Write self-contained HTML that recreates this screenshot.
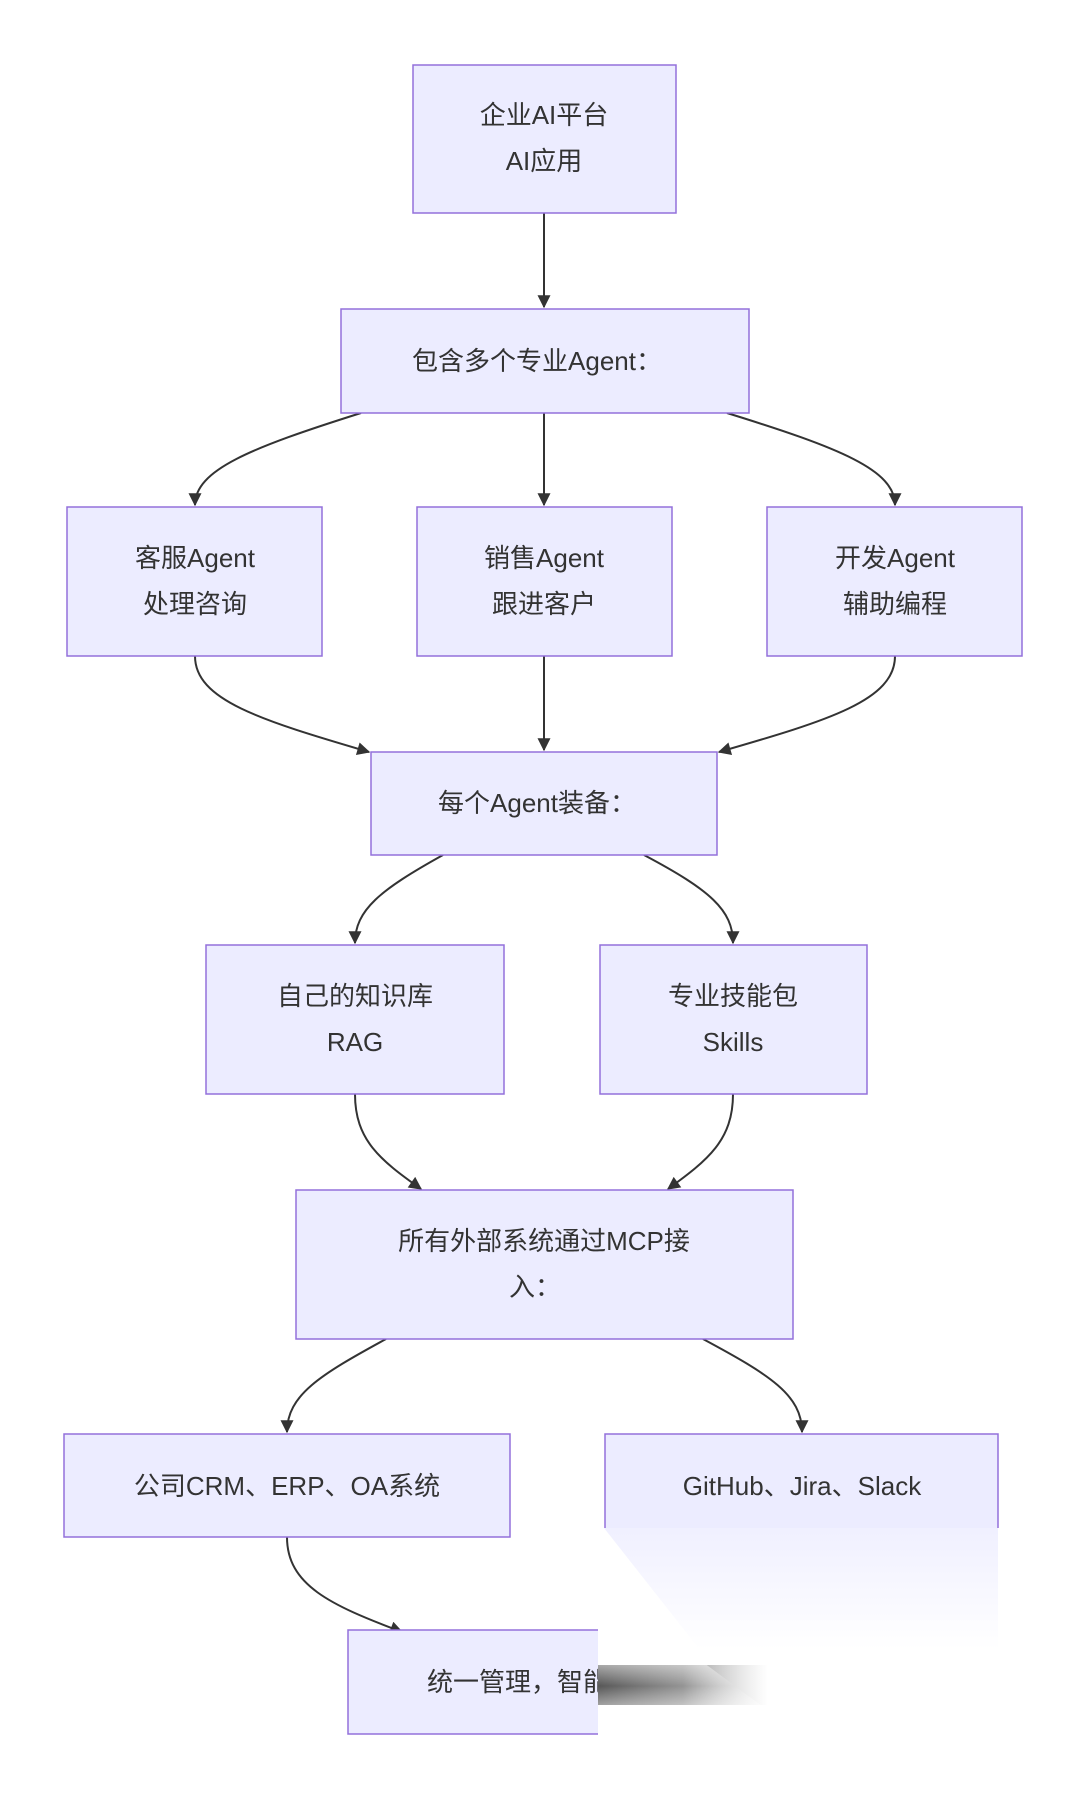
<!DOCTYPE html>
<html><head><meta charset="utf-8"><style>
html,body{margin:0;padding:0;background:#fff;}
svg{display:block}
text{font-family:"Liberation Sans","Noto Sans CJK SC",sans-serif;font-size:26px;fill:#333;text-anchor:middle;}
rect{fill:#ECECFF;stroke:#9370DB;stroke-width:1.5}
path{fill:none;stroke:#333;stroke-width:2}
</style></head><body>
<svg width="1080" height="1796" viewBox="0 0 1080 1796" xmlns="http://www.w3.org/2000/svg">
<defs>
<marker id="a" viewBox="0 0 10 10" refX="9" refY="5" markerWidth="15" markerHeight="13" markerUnits="userSpaceOnUse" orient="auto"><path d="M0,0 L10,5 L0,10 z" style="fill:#333;stroke:none"/></marker>
<linearGradient id="lav" x1="0" y1="0" x2="0" y2="1">
<stop offset="0" stop-color="#ECECFF" stop-opacity="1"/><stop offset="1" stop-color="#ffffff" stop-opacity="1"/></linearGradient>
<linearGradient id="sm" x1="0" y1="0" x2="1" y2="0">
<stop offset="0" stop-color="#444" stop-opacity="0.9"/><stop offset="0.5" stop-color="#666" stop-opacity="0.7"/><stop offset="1" stop-color="#aaa" stop-opacity="0"/></linearGradient>
<linearGradient id="smv" x1="0" y1="0" x2="0" y2="1">
<stop offset="0" stop-color="#fff" stop-opacity="1"/><stop offset="0.5" stop-color="#fff" stop-opacity="0"/><stop offset="1" stop-color="#fff" stop-opacity="1"/></linearGradient>
<clipPath id="cl"><rect x="0" y="0" width="598" height="1796"/></clipPath>
</defs>
<!-- edges -->
<path d="M544,213 L544,307" marker-end="url(#a)"/>
<path d="M361,413 C250,448 195,470 195,505" marker-end="url(#a)"/>
<path d="M544,413 L544,505" marker-end="url(#a)"/>
<path d="M727,413 C840,448 895,470 895,505" marker-end="url(#a)"/>
<path d="M195,656 C195,700 260,720 369,752" marker-end="url(#a)"/>
<path d="M544,656 L544,750" marker-end="url(#a)"/>
<path d="M895,656 C895,700 830,720 719,752" marker-end="url(#a)"/>
<path d="M443,855 C380,890 355,910 355,943" marker-end="url(#a)"/>
<path d="M644,855 C710,890 733,910 733,943" marker-end="url(#a)"/>
<path d="M355,1094 C355,1140 380,1160 421,1189" marker-end="url(#a)"/>
<path d="M733,1094 C733,1140 708,1160 668,1189" marker-end="url(#a)"/>
<path d="M386,1339 C320,1375 287,1395 287,1432" marker-end="url(#a)"/>
<path d="M703,1339 C770,1375 802,1395 802,1432" marker-end="url(#a)"/>
<path d="M287,1537 C287,1585 330,1605 402,1632" marker-end="url(#a)"/>
<!-- nodes -->
<rect x="413" y="65" width="263" height="148"/>
<text x="544" y="124">企业AI平台</text><text x="544" y="170">AI应用</text>
<rect x="341" y="309" width="408" height="104"/>
<text x="537" y="370">包含多个专业Agent：</text>
<rect x="67" y="507" width="255" height="149"/>
<text x="195" y="567">客服Agent</text><text x="195" y="613">处理咨询</text>
<rect x="417" y="507" width="255" height="149"/>
<text x="544" y="567">销售Agent</text><text x="544" y="613">跟进客户</text>
<rect x="767" y="507" width="255" height="149"/>
<text x="895" y="567">开发Agent</text><text x="895" y="613">辅助编程</text>
<rect x="371" y="752" width="346" height="103"/>
<text x="537" y="812">每个Agent装备：</text>
<rect x="206" y="945" width="298" height="149"/>
<text x="355" y="1005">自己的知识库</text><text x="355" y="1051">RAG</text>
<rect x="600" y="945" width="267" height="149"/>
<text x="733" y="1005">专业技能包</text><text x="733" y="1051">Skills</text>
<rect x="296" y="1190" width="497" height="149"/>
<text x="544" y="1250">所有外部系统通过MCP接</text><text x="535" y="1296">入：</text>
<rect x="64" y="1434" width="446" height="103"/>
<text x="287" y="1495">公司CRM、ERP、OA系统</text>
<rect x="605" y="1434" width="393" height="103"/>
<text x="802" y="1495">GitHub、Jira、Slack</text>
<g clip-path="url(#cl)">
<rect x="348" y="1630" width="400" height="104"/>
<text x="544" y="1691">统一管理，智能协作</text>
</g>
<!-- overlay -->
<rect x="598" y="1528" width="482" height="268" style="fill:#fff;stroke:none"/>
<polygon points="604,1528 998,1528 998,1650 700,1650" style="fill:url(#lav);stroke:none" opacity="0.8"/>
<rect x="598" y="1665" width="170" height="40" style="fill:url(#sm);stroke:none"/>
<polygon points="598,1660 700,1660 770,1712 598,1712" style="fill:url(#smv);stroke:none" opacity="0.6"/>
<polygon points="640,1528 1080,1528 1080,1796 790,1796 795,1712 640,1528" style="fill:#fff;stroke:none" opacity="0"/>
<polygon points="775,1660 1080,1660 1080,1796 800,1796" style="fill:#fff;stroke:none"/>
</svg>
</body></html>
